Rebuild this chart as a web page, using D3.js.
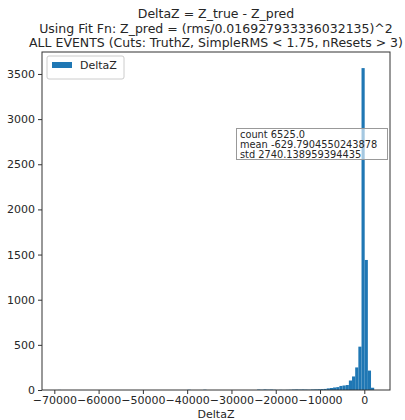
<!DOCTYPE html>
<html>
<head>
<meta charset="utf-8">
<script src="https://cdn.jsdelivr.net/npm/d3@7"></script>
<style>
  html, body { margin: 0; padding: 0; background: #fff; }
  svg { display: block; font-family: "DejaVu Sans", sans-serif; }
</style>
</head>
<body>
<svg id="chart" width="405" height="420"></svg>
<script>
// ---- data ----
const titleLines = [
  "DeltaZ = Z_true - Z_pred",
  "Using Fit Fn: Z_pred = (rms/0.016927933336032135)^2",
  "ALL EVENTS (Cuts: TruthZ, SimpleRMS < 1.75, nResets > 3)"
];
const seriesName = "DeltaZ";
const xLabel = "DeltaZ";
const dataMin = -69210;
const dataMax = 2230;
const nBins = 100;
// histogram counts per bin (100 bins from dataMin to dataMax)
const counts = [
  1, 0, 0, 0, 0, 0, 0, 0, 0, 0,
  0, 0, 0, 0, 0, 0, 0, 0, 0, 0,
  0, 0, 0, 0, 0, 0, 0, 0, 0, 0,
  0, 0, 0, 0, 0, 0, 0, 0, 0, 0,
  0, 3, 0, 0, 0, 0, 3, 0, 0, 0,
  0, 0, 0, 0, 0, 0, 0, 0, 0, 0,
  0, 0, 0, 5, 3, 6, 4, 5, 3, 1,
  2, 1, 2, 3, 5, 6, 5, 6, 5, 4,
  6, 7, 8, 10, 12, 18, 22, 28, 32, 45,
  50, 55, 105, 150, 250, 480, 3565, 1440, 215, 25
];
const xTicks = [-70000, -60000, -50000, -40000, -30000, -20000, -10000, 0];
const yTicks = [0, 500, 1000, 1500, 2000, 2500, 3000, 3500];
const statsLines = [
  "count 6525.0",
  "mean -629.7904550243878",
  "std 2740.138959394435"
];

// ---- layout ----
const svg = d3.select("#chart");
const L = 42, R = 390, T = 52, B = 390;
const binW = (dataMax - dataMin) / nBins;
const pad = (dataMax - dataMin) * 0.05;
const x = d3.scaleLinear().domain([dataMin - pad, dataMax + pad]).range([L, R]);
const yMax = d3.max(counts) * 1.05;
const y = d3.scaleLinear().domain([0, yMax]).range([B, T]);
const color = "#1f77b4";
const textColor = "#262626";

// bars
svg.append("g").selectAll("rect").data(counts).join("rect")
  .attr("x", (d, i) => x(dataMin + i * binW))
  .attr("width", (d, i) => x(dataMin + (i + 1) * binW) - x(dataMin + i * binW))
  .attr("y", d => y(d))
  .attr("height", d => B - y(d))
  .attr("fill", color);

// axes
const fmt = d => d3.format("d")(d).replace("-", "\u2212");
const xAxis = svg.append("g").attr("transform", `translate(0,${B})`)
  .call(d3.axisBottom(x).tickValues(xTicks).tickFormat(fmt).tickSize(4).tickPadding(2));
const yAxis = svg.append("g").attr("transform", `translate(${L},0)`)
  .call(d3.axisLeft(y).tickValues(yTicks).tickFormat(d3.format("d")).tickSize(4).tickPadding(3));
[xAxis, yAxis].forEach(g => {
  g.select(".domain").remove();
  g.selectAll("line").attr("stroke", "#333");
  g.selectAll("text").attr("fill", textColor).style("font-size", "11px")
    .style("font-family", "'DejaVu Sans', sans-serif");
});

// frame
svg.append("rect").attr("x", L).attr("y", T).attr("width", R - L).attr("height", B - T)
  .attr("fill", "none").attr("stroke", "#333").attr("stroke-width", 1);

// title
const cx = (L + R) / 2;
svg.append("g").selectAll("text").data(titleLines).join("text")
  .attr("x", cx).attr("y", (d, i) => 18 + i * 14.5)
  .attr("text-anchor", "middle").attr("fill", textColor)
  .style("font-size", "12.5px").text(d => d);

// x label
svg.append("text").attr("x", cx).attr("y", 418).attr("text-anchor", "middle")
  .attr("fill", textColor).style("font-size", "11px").text(xLabel);

// legend
const lg = svg.append("g");
lg.append("rect").attr("x", 47).attr("y", 56).attr("width", 77).attr("height", 23)
  .attr("rx", 2).attr("fill", "#fff").attr("fill-opacity", 0.8).attr("stroke", "#ccc");
lg.append("rect").attr("x", 52).attr("y", 62).attr("width", 20).attr("height", 6).attr("fill", color);
lg.append("text").attr("x", 80).attr("y", 69).attr("fill", textColor)
  .style("font-size", "11px").text(seriesName);

// stats box
const sb = svg.append("g");
sb.append("rect").attr("x", 236.5).attr("y", 128.5).attr("width", 151).attr("height", 31)
  .attr("fill", "#fff").attr("fill-opacity", 0.6).attr("stroke", "#999");
sb.selectAll("text").data(statsLines).join("text")
  .attr("x", 240).attr("y", (d, i) => 137.5 + i * 10.3)
  .attr("fill", textColor).style("font-size", "9.8px").text(d => d);
</script>
</body>
</html>
